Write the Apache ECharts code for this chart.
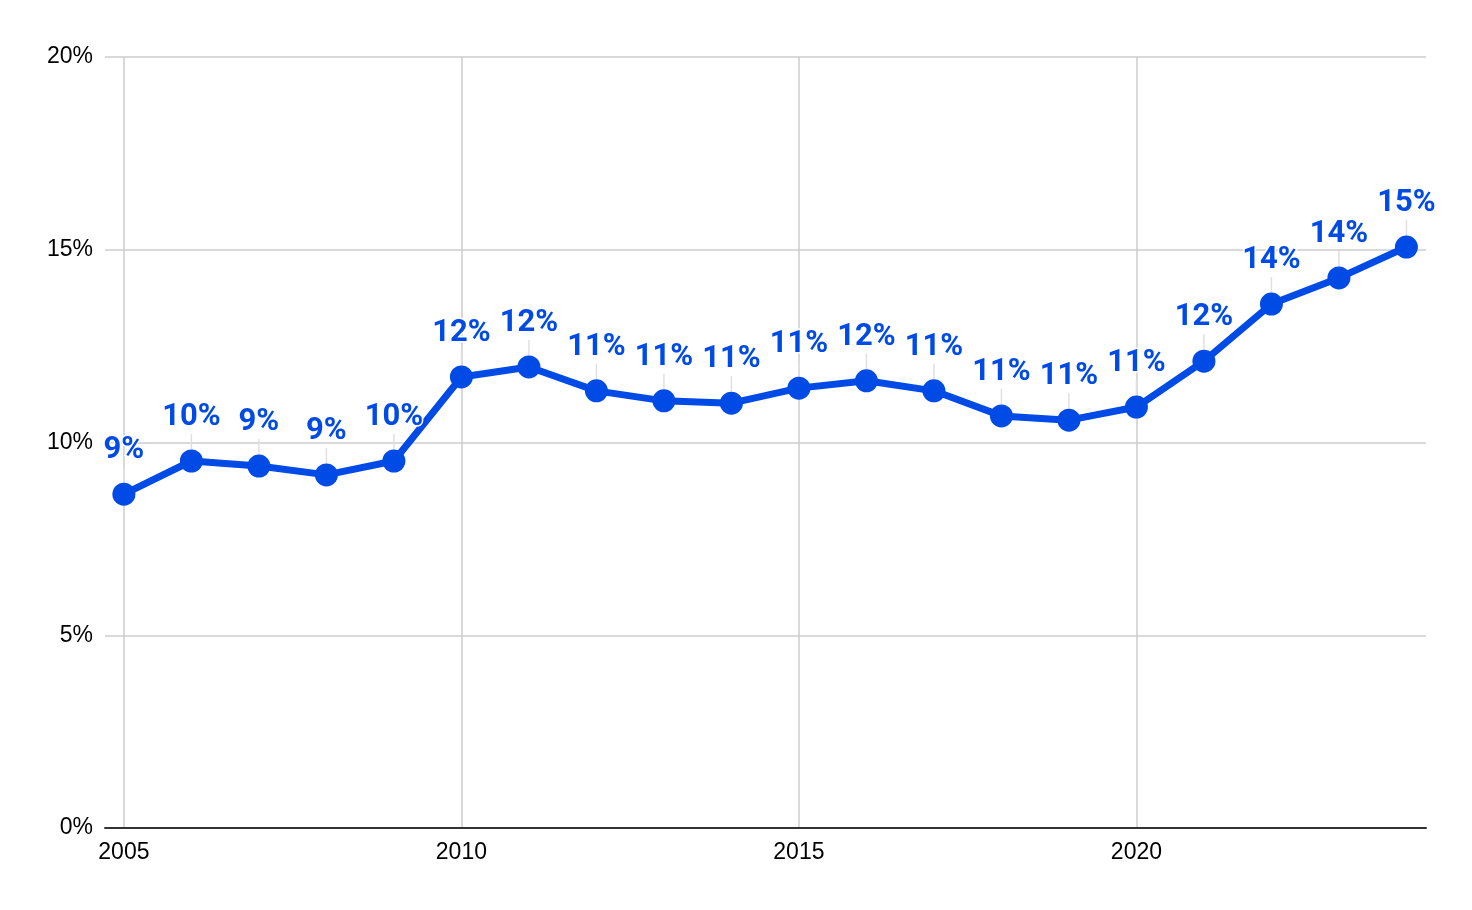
<!DOCTYPE html>
<html>
<head>
<meta charset="utf-8">
<script src="https://cdn.jsdelivr.net/npm/echarts@6/dist/echarts.min.js"></script>
<style>html,body{margin:0;padding:0;background:#fff}#chart{width:1472px;height:910px}</style>
</head>
<body>
<div id="chart"></div>
<script>
const years = [2005,2006,2007,2008,2009,2010,2011,2012,2013,2014,2015,2016,2017,2018,2019,2020,2021,2022,2023,2024];
const values = [8.66,9.52,9.39,9.16,9.52,11.70,11.96,11.34,11.08,11.02,11.41,11.60,11.34,10.69,10.58,10.92,12.11,13.59,14.27,15.07];
const yTicks = [0,5,10,15,20];
const xTickYears = [2005,2010,2015,2020];

const chart = echarts.init(document.getElementById('chart'));
chart.setOption({
  animation: false,
  grid: {left: 105, right: 46, top: 57, bottom: 82, containLabel: false},
  xAxis: {
    type: 'value', min: 2004.72, max: 2024.29,
    axisLine: {show: true, lineStyle: {color: '#333', width: 2}},
    axisTick: {show: false, customValues: xTickYears},
    axisLabel: {customValues: xTickYears, formatter: v => String(Math.round(v)), color: '#000', fontFamily: 'Liberation Sans, Arial', fontSize: 23, margin: 13},
    splitLine: {show: true, lineStyle: {color: '#cccccc', width: 1.5}}
  },
  yAxis: {
    type: 'value', min: 0, max: 20, interval: 5,
    axisLine: {show: false}, axisTick: {show: false},
    axisLabel: {formatter: '{value}%', color: '#000', fontFamily: 'Liberation Sans, Arial', fontSize: 23, margin: 12},
    splitLine: {lineStyle: {color: '#cccccc', width: 1.5}}
  },
  series: [{
    type: 'line',
    data: years.map((y, i) => [y, values[i]]),
    lineStyle: {color: '#004ae6', width: 7},
    itemStyle: {color: '#004ae6'},
    symbol: 'circle', symbolSize: 23,
    label: {
      show: true, position: 'top', distance: 4,
      formatter: p => Math.round(p.value[1]) + '%',
      color: '#004ae6', fontFamily: 'Roboto', fontWeight: 'bold', fontSize: 31,
      textBorderColor: '#fff', textBorderWidth: 3
    },
    labelLayout: {dy: -13},
    labelLine: {show: true, lineStyle: {color: '#e0e0e0', width: 1.5}}
  }]
});
</script>
</body>
</html>
